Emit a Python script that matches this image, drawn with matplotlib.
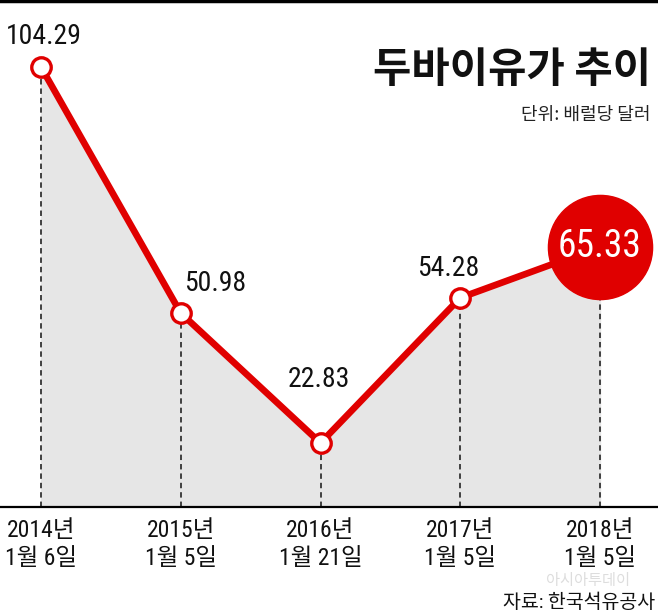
import matplotlib
matplotlib.use("Agg")
import matplotlib.pyplot as plt
from matplotlib import font_manager

# 데이터
dates = ["2014년\n1월 6일", "2015년\n1월 5일", "2016년\n1월 21일", "2017년\n1월 5일", "2018년\n1월 5일"]
prices = [104.29, 50.98, 22.83, 54.28, 65.33]
label_offsets = [(2, 22), (25, 21), (-1, 46), (-9, 21)]  # points

# 좁은 글꼴 찾기
names = {f.name for f in font_manager.fontManager.ttflist}
narrow = "Roboto"
for cand in ["Roboto Condensed", "Archivo Narrow", "PT Sans Narrow", "Liberation Sans Narrow",
             "Fira Sans Condensed", "IBM Plex Sans Condensed", "Open Sans Condensed"]:
    if cand in names:
        narrow = cand
        break
num_font = [narrow, "Noto Sans CJK KR"]
kr_font = ["Noto Sans CJK KR", "DejaVu Sans"]
plt.rcParams["font.family"] = kr_font

red = "#e00000"
x = list(range(len(prices)))

fig = plt.figure(figsize=(6.58, 6.16), dpi=100)
ax = fig.add_axes([0, 0.177, 1, 0.823])
ax.set_xlim(-0.2934, 4.415)
ax.set_ylim(8.97, 118.8)

# 회색 영역
ax.fill_between(x, prices, 8.97, color="#e6e6e6", zorder=1)
# 점선
for xi, p in zip(x, prices):
    ax.plot([xi, xi], [8.97, p], color="#333333", lw=1.3, ls=(0, (3, 2.2)), zorder=2)
# 선
ax.plot(x, prices, color=red, lw=4.8, zorder=3, solid_capstyle="round")
ax.plot(x[:-1], prices[:-1], "o", ms=14, mfc="white", mec=red, mew=2.4, zorder=4)
ax.plot(x[-1], prices[-1], "o", ms=75, mfc=red, mec=red, zorder=5)

for xi, p, off in zip(x[:-1], prices[:-1], label_offsets):
    ax.annotate(f"{p:.2f}", (xi, p), xytext=off, textcoords="offset points",
                ha="center", va="center", fontsize=20, family=num_font, color="#111111")
ax.annotate(f"{prices[-1]:.2f}", (x[-1], prices[-1]), ha="center", va="center",
            fontsize=27, family=num_font, color="white", zorder=6)

for s in ["top", "left", "right"]:
    ax.spines[s].set_visible(False)
ax.spines["bottom"].set_linewidth(1.6)
ax.set_yticks([])
ax.set_xticks(x)
ax.set_xticklabels(dates, fontsize=17, linespacing=1.25, color="#111111")
ax.tick_params(axis="x", length=0, pad=9)
for t in ax.get_xticklabels():
    t.set_family(num_font)

fig.text(0.99, 0.887, "두바이유가 추이", ha="right", va="center", fontsize=30,
         fontweight="bold", color="#111111")
fig.text(0.988, 0.813, "단위: 배럴당 달러", ha="right", va="center", fontsize=13,
         color="#222222")
fig.text(0.958, 0.058, "아시아투데이", ha="right", va="center", fontsize=11,
         color="#dddddd")
fig.text(0.996, 0.021, "자료: 한국석유공사", ha="right", va="center", fontsize=14,
         family=num_font, color="#111111")
fig.add_artist(plt.Line2D([0, 1], [0.998, 0.998], color="black", lw=2.5,
                          transform=fig.transFigure))

fig.savefig("out.png", dpi=100)
